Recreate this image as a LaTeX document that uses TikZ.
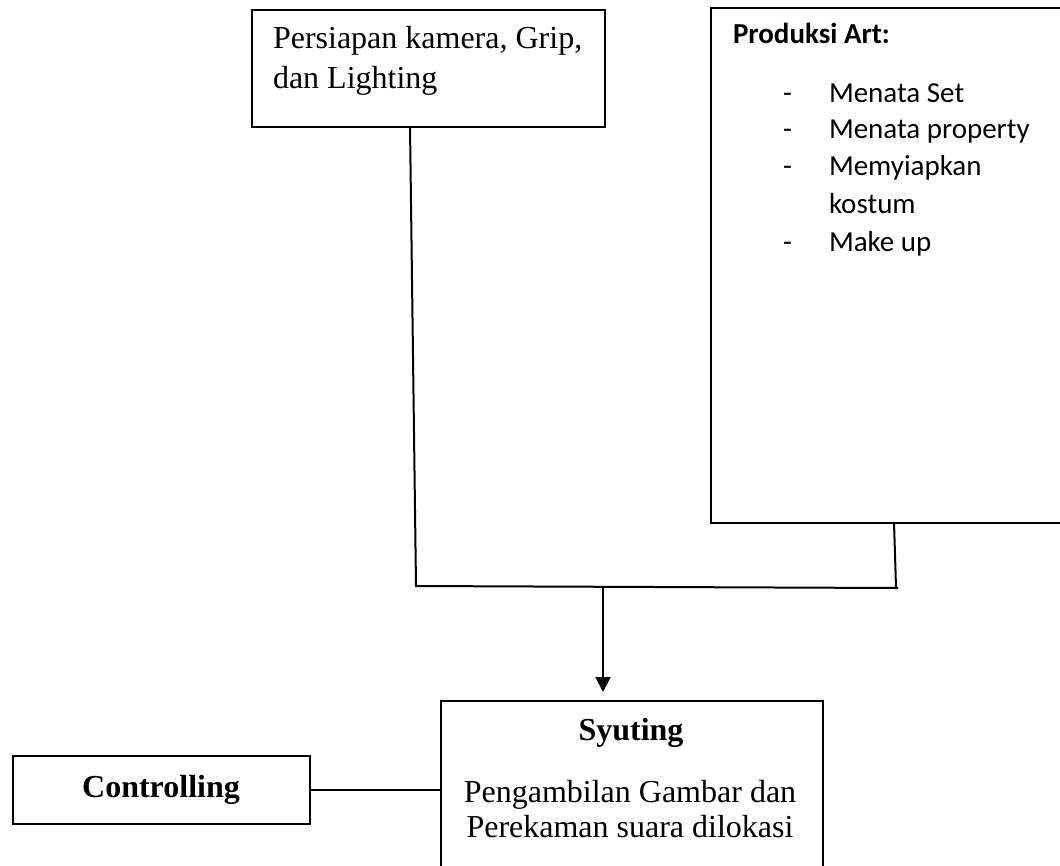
\documentclass[tikz,border=0pt]{standalone}
\usepackage{fontspec}
\setmainfont{Liberation Serif}
\newfontfamily\calibri{Carlito}
\usetikzlibrary{arrows.meta}
\begin{document}
\begin{tikzpicture}[x=0.75pt,y=-0.75pt, line width=1.5pt,
  box/.style={draw, rectangle, inner sep=0pt, anchor=north west},
  txt/.style={anchor=base west, inner sep=0pt, font=\fontsize{24}{30}\selectfont},
  ctxt/.style={anchor=base, inner sep=0pt, font=\fontsize{24}{30}\selectfont},
  atxt/.style={anchor=base west, inner sep=0pt, font=\calibri\fontsize{21.75}{27}\selectfont},
  link/.style={line width=1.5pt},
  arrowlink/.style={link, -{Triangle[length=11.25pt,width=11.25pt]}}]
\useasboundingbox (0,0) rectangle (1060,865);
\clip (0,0) rectangle (1060,865);
% boxes
\node[box, minimum width=264.75pt, minimum height=87.75pt] (A) at (251,9) {};
\node[box, minimum width=273.75pt, minimum height=386.25pt] (B) at (710,7) {};
\node[box, minimum width=286.5pt, minimum height=142.5pt] (S) at (440,700) {};
\node[box, minimum width=222.75pt, minimum height=51pt] (C) at (12,755) {};
% texts of box A
\node[txt] (a1) at (272,48) {Persiapan kamera, Grip,};
\node[txt] (a2) at (272,88) {dan Lighting};
% texts of box B
\node[atxt, font=\calibri\bfseries\fontsize{21.75}{27}\selectfont] (b0) at (732,43) {Produksi Art:};
\node[atxt] (d1) at (782,102) {-};
\node[atxt] (b1) at (828,102) {Menata Set};
\node[atxt] (d2) at (782,138) {-};
\node[atxt] (b2) at (828,138) {Menata property};
\node[atxt] (d3) at (782,175) {-};
\node[atxt] (b3) at (828,175) {Memyiapkan};
\node[atxt] (b4) at (828,213) {kostum};
\node[atxt] (d5) at (782,251) {-};
\node[atxt] (b5) at (828,251) {Make up};
% texts of Syuting
\node[ctxt, font=\bfseries\fontsize{24}{30}\selectfont] (s0) at (631,740) {Syuting};
\node[ctxt] (s1) at (630,802) {Pengambilan Gambar dan};
\node[ctxt] (s2) at (630,837) {Perekaman suara dilokasi};
% Controlling
\node[ctxt, font=\bfseries\fontsize{24}{30}\selectfont] (c0) at (161,797) {Controlling};
% connectors
\coordinate (aBot) at (410,126);
\coordinate (jL) at (416,586);
\coordinate (jR) at (898,588);
\coordinate (bBot) at (894,522);
\coordinate (bJ) at (896,587);
\coordinate (arrS) at (603,587);
\coordinate (arrE) at (603,692);
\draw[link] (aBot) -- (jL) -- (jR);
\draw[link] (bBot) -- (bJ);
\draw[arrowlink] (arrS) -- (arrE);
\draw[link] (C.east) -- (C.east -| S.west);
\end{tikzpicture}
\end{document}
